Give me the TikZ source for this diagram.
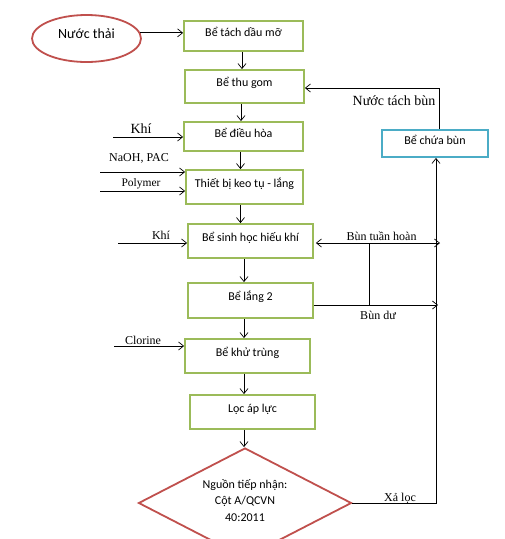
\documentclass[tikz,border=0pt]{standalone}
\usepackage{fontspec}
\setmainfont{Liberation Serif}
\newfontfamily\boxfont{Carlito}
\usetikzlibrary{arrows.meta,shapes.geometric}
\definecolor{boxgreen}{HTML}{9BBB59}
\definecolor{boxred}{HTML}{C0504D}
\definecolor{boxblue}{HTML}{4BACC6}
\tikzset{
  stepbox/.style={draw=boxgreen, line width=1.8pt, rectangle, inner sep=0pt,
    font=\boxfont\fontsize{12}{14}\selectfont, text height=9.5pt, text depth=9.5pt},
  arr/.style={-{Straight Barb[length=5pt,width=8pt]}, line width=0.7pt},
  arrboth/.style={{Straight Barb[length=5pt,width=8pt]}-{Straight Barb[length=5pt,width=8pt]}, line width=0.7pt},
  plain/.style={line width=0.7pt},
  lab/.style={inner sep=0pt, font=\fontsize{12}{14}\selectfont},
}
\begin{document}
\begin{tikzpicture}[x=1pt,y=-1pt]
\useasboundingbox (0,0) rectangle (505,539);
\clip (0,0) rectangle (505,539);
\fill[white] (0,0) rectangle (505,539);

% nodes
\node[ellipse, draw=boxred, line width=1.8pt, minimum width=109pt, minimum height=47pt, inner sep=0pt,
  font=\boxfont\fontsize{14}{16}\selectfont, text height=10pt, text depth=11pt] (ell) at (86.5,38.5) {Nước thải};
\node[stepbox, minimum width=119pt, minimum height=30pt] (b1) at (243.5,36) {Bể tách dầu mỡ};
\node[stepbox, minimum width=119pt, minimum height=33pt] (b2) at (244.5,86.5) {Bể thu gom};
\node[stepbox, minimum width=119pt, minimum height=29pt, text depth=7pt] (b3) at (243.5,136.5) {Bể điều hòa};
\node[stepbox, minimum width=117pt, minimum height=34pt] (b4) at (244.5,187) {Thiết bị keo tụ - lắng};
\node[stepbox, minimum width=125pt, minimum height=34pt] (b5) at (250.5,241) {Bể sinh học hiếu khí};
\node[stepbox, minimum width=125pt, minimum height=35pt] (b6) at (250.5,300.5) {Bể lắng 2};
\node[stepbox, minimum width=125pt, minimum height=34pt] (b7) at (247.5,356) {Bể khử trùng};
\node[stepbox, minimum width=125pt, minimum height=34pt] (b8) at (252.5,412) {Lọc áp lực};
\node[stepbox, draw=boxblue, minimum width=106pt, minimum height=27pt, text depth=8pt] (cb) at (435,143.5) {Bể chứa bùn};
\node[diamond, draw=boxred, line width=1.8pt, aspect=1.94, minimum width=213pt, minimum height=110pt,
  inner sep=0pt, align=center, font=\boxfont\fontsize{12}{16.5}\selectfont] (dia) at (245,503)
  {\\[-12.5pt]Nguồn tiếp nhận:\\Cột A/QCVN\\40:2011};

% labels
\node[lab, font=\fontsize{14}{16}\selectfont] (lnt) at (394,101) {Nước tách bùn};
\node[lab, font=\fontsize{14}{16}\selectfont] (lk1) at (141,129) {Khí};
\node[lab] (lnaoh) at (139,158) {NaOH, PAC};
\node[lab, font=\fontsize{11.5}{14}\selectfont] (lpol) at (141,184) {Polymer};
\node[lab] (lk2) at (161,235) {Khí};
\node[lab] (lbth) at (381.5,236) {Bùn tuần hoàn};
\node[lab] (lbd) at (378,315) {Bùn dư};
\node[lab] (lcl) at (143,340) {Clorine};
\node[lab] (lxl) at (400,498) {Xả lọc};

% free ends
\coordinate (k1) at (113,137);
\coordinate (na) at (100,172);
\coordinate (po) at (100,191);
\coordinate (k2) at (118,243);
\coordinate (cl) at (114,346);
\coordinate (bt) at (440,243);
\coordinate (bd) at (438,305);
\coordinate (jn) at (369,243);

% main flow
\draw[arr] (ell.6) -- (ell.6 -| b1.west);
\draw[arr] ([xshift=-1.5pt]b1.south) -- ([xshift=-1.5pt]b1.south |- b2.north);
\draw[arr] ([xshift=-3.5pt]b2.south) -- ([xshift=-3.5pt]b2.south |- b3.north);
\draw[arr] ([xshift=-3pt]b3.south) -- ([xshift=-3pt]b3.south |- b4.north);
\draw[arr] ([xshift=-4pt]b4.south) -- ([xshift=-4pt]b4.south |- b5.north);
\draw[arr] ([xshift=-6.5pt]b5.south) -- ([xshift=-6.5pt]b5.south |- b6.north);
\draw[arr] ([xshift=-6.5pt]b6.south) -- ([xshift=-6.5pt]b6.south |- b7.north);
\draw[arr] ([xshift=-3.5pt]b7.south) -- ([xshift=-3.5pt]b7.south |- b8.north);
\draw[arr] ([xshift=-8.5pt]b8.south) -- ([xshift=-8.5pt]b8.south |- dia.north);

% side inputs
\draw[arr] (k1) -- (k1 -| b3.west);
\draw[arr] (na) -- (na -| b4.west);
\draw[arr] (po) -- (po -| b4.west);
\draw[arr] (k2) -- (k2 -| b5.west);
\draw[arr] (cl) -- (cl -| b7.west);

% sludge lines
\draw[arrboth, shorten <=2pt] (bt -| b5.east) -- (bt);
\draw[plain] (jn) -- (jn |- bd);
\draw[arr] (bd -| b6.east) -- (bd);
\draw[arr] (dia.east) -| ([xshift=1pt]cb.south);
\draw[arr] ([xshift=4pt]cb.north) |- ([yshift=-1.5pt]b2.east);
\end{tikzpicture}
\end{document}
